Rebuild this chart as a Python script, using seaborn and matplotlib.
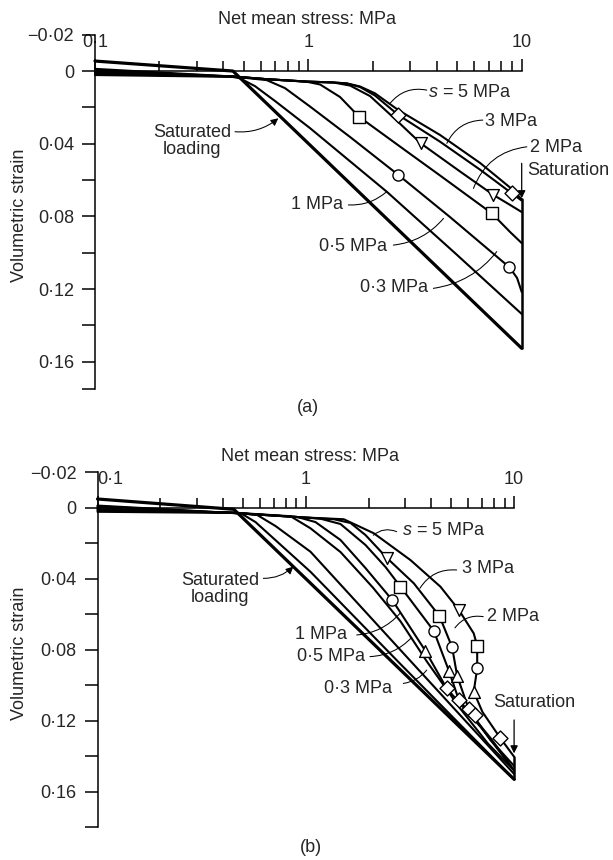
import matplotlib
matplotlib.use("Agg")
import matplotlib.pyplot as plt
from matplotlib.ticker import NullFormatter
import seaborn as sns

sns.set_style("white")
plt.rcParams["font.family"] = ["Liberation Sans", "DejaVu Sans"]
plt.rcParams["mathtext.fontset"] = "custom"
plt.rcParams["mathtext.rm"] = "Liberation Sans"
plt.rcParams["mathtext.it"] = "Liberation Sans:italic"

FS = 13

# ---------------- axis ticks ----------------
x_major = [0.1, 1, 10]
x_major_labels = ["0\u00b71", "1", "10"]
x_minor = [0.2, 0.3, 0.4, 0.5, 0.6, 0.7, 0.8, 0.9, 2, 3, 4, 5, 6, 7, 8, 9]
y_major = [-0.02, 0.0, 0.04, 0.08, 0.12, 0.16]
y_major_labels = ["\u22120\u00b702", "0", "0\u00b704", "0\u00b708", "0\u00b712", "0\u00b716"]
a_y_minor = [0.02, 0.06, 0.10, 0.14, 0.175]
b_y_minor = [0.02, 0.06, 0.10, 0.14, 0.18]

# ---------------- panel (a) ----------------
a_sat_x = [0.1, 0.443, 10]
a_sat_y = [-0.0055, 0.0, 0.1526]

a_l1_x = [0.1, 0.44, 0.478, 0.562, 0.698, 1.02, 2.33, 4.87, 10]
a_l1_y = [0.0022, 0.0032, 0.004, 0.0083, 0.0165, 0.0315, 0.0664, 0.1002, 0.1337]
a_l2_x = [0.1, 0.44, 0.638, 0.777, 1.02, 1.569, 2.642, 4.617, 8.757, 9.515, 10]
a_l2_y = [0.0016, 0.003, 0.005, 0.0094, 0.0196, 0.0363, 0.0572, 0.0804, 0.108, 0.1139, 0.1216]
a_l3_x = [0.1, 0.44, 0.64, 0.983, 1.135, 1.408, 1.73, 2.692, 4.144, 7.24, 8.823, 10]
a_l3_y = [0.001, 0.003, 0.0045, 0.0059, 0.0074, 0.0143, 0.0252, 0.0416, 0.0575, 0.0783, 0.0886, 0.0947]
a_l4_x = [0.1, 0.44, 0.64, 0.983, 1.31, 1.569, 1.947, 2.55, 3.365, 5.143, 7.368, 8.823, 10]
a_l4_y = [0.0004, 0.003, 0.0045, 0.0058, 0.0063, 0.008, 0.0138, 0.0264, 0.0398, 0.0553, 0.0682, 0.0737, 0.0776]
a_l5_x = [0.1, 0.44, 0.64, 0.983, 1.31, 1.514, 1.747, 2.054, 2.642, 4.144, 6.383, 8.987, 10]
a_l5_y = [-0.0004, 0.003, 0.0045, 0.0058, 0.0063, 0.0068, 0.0088, 0.0135, 0.0242, 0.0389, 0.0543, 0.0673, 0.0713]
a_l6_x = [0.1, 0.44, 0.64, 0.983, 1.31, 1.514, 1.747, 2.054, 2.642, 4.144, 6.383, 8.987, 10]
a_l6_y = [-0.0012, 0.003, 0.0045, 0.0058, 0.0063, 0.0068, 0.0085, 0.0123, 0.0215, 0.0352, 0.0506, 0.0649, 0.0706]
a_wet_x = [10, 10]
a_wet_y = [0.0706, 0.1526]

a_dia_x, a_dia_y = [2.642, 8.987], [0.0242, 0.0673]
a_tdn_x, a_tdn_y = [3.365, 7.368], [0.0398, 0.0682]
a_sq_x, a_sq_y = [1.73, 7.24], [0.0252, 0.0783]
a_ci_x, a_ci_y = [2.642, 8.757], [0.0572, 0.108]

# ---------------- panel (b) ----------------
b_sat_x = [0.1, 0.451, 10]
b_sat_y = [-0.0049, 0.0009, 0.153]

b_l1_x = [0.1, 0.486, 0.5735, 1.053, 2.848, 10]
b_l1_y = [0.0023, 0.003, 0.0081, 0.0361, 0.0881, 0.153]
b_l2_x = [0.1, 0.45, 0.5843, 0.715, 1.053, 2.848, 10]
b_l2_y = [0.0016, 0.0027, 0.0041, 0.0103, 0.0248, 0.0802, 0.150]
b_l3_x = [0.1, 0.45, 0.8445, 1.053, 1.468, 2.1, 2.848, 3.83, 5.5, 7.5, 10]
b_l3_y = [0.0010, 0.0028, 0.0048, 0.0116, 0.025, 0.045, 0.064, 0.087, 0.113, 0.133, 0.148]
b_l4_x = [0.1, 0.45, 0.909, 1.113, 1.468, 1.934, 2.60, 3.75, 4.74, 6.9, 10]
b_l4_y = [0.0004, 0.0029, 0.0052, 0.0081, 0.0182, 0.034, 0.052, 0.0806, 0.1017, 0.1235, 0.148]
b_l5_x = [0.1, 0.45, 0.98, 1.177, 1.468, 1.934, 2.413, 2.848, 4.12, 4.86, 5.43, 7.7, 10]
b_l5_y = [-0.0002, 0.003, 0.0055, 0.0062, 0.0092, 0.021, 0.0334, 0.0445, 0.0695, 0.0918, 0.1083, 0.1297, 0.148]
b_l6_x = [0.1, 0.45, 0.98, 1.362, 1.639, 1.934, 2.46, 3.30, 4.38, 5.04, 5.33, 6.06, 7.7, 10]
b_l6_y = [-0.0008, 0.003, 0.0055, 0.0065, 0.0086, 0.0154, 0.0285, 0.0426, 0.061, 0.0786, 0.0948, 0.1136, 0.1308, 0.1455]
b_l7_x = [0.1, 0.45, 0.98, 1.522, 2.12, 3.18, 4.43, 5.43, 6.40, 6.65, 6.65, 6.40, 7.05, 8.6, 10]
b_l7_y = [-0.0012, 0.003, 0.0055, 0.0065, 0.0144, 0.0295, 0.0445, 0.0576, 0.0708, 0.0779, 0.0905, 0.1037, 0.1151, 0.1299, 0.1403]
b_wet_x = [10, 10]
b_wet_y = [0.1403, 0.153]

b_tdn_x, b_tdn_y = [2.46, 5.43], [0.0285, 0.0576]
b_sq_x, b_sq_y = [2.848, 4.38, 6.65], [0.0445, 0.061, 0.0779]
b_ci_x, b_ci_y = [2.60, 4.12, 5.04, 6.65], [0.052, 0.0695, 0.0786, 0.0905]
b_tup_x, b_tup_y = [3.75, 4.86, 5.33, 6.40], [0.0806, 0.0918, 0.0948, 0.1037]
b_dia_x, b_dia_y = [4.74, 5.43, 6.06, 6.46, 8.6], [0.1017, 0.1083, 0.1136, 0.1168, 0.1299]


def style_axes(ax, y_bottom, y_minor, centre_first_label):
    ax.set_xscale("log")
    ax.set_xlim(0.1, 10)
    ax.set_ylim(y_bottom, -0.02)
    for side in ("right", "bottom"):
        ax.spines[side].set_visible(False)
    ax.spines["top"].set_position(("data", 0))
    ax.spines["top"].set_bounds(0.1, 10)
    for side in ("top", "left"):
        ax.spines[side].set_linewidth(1.1)
        ax.spines[side].set_color("black")
    ax.xaxis.set_ticks_position("top")
    ax.set_xticks(x_major)
    ax.set_xticklabels(x_major_labels)
    ax.set_xticks(x_minor, minor=True)
    ax.xaxis.set_minor_formatter(NullFormatter())
    ax.set_yticks(y_major)
    ax.set_yticklabels(y_major_labels)
    ax.set_yticks(y_minor, minor=True)
    ax.yaxis.set_minor_formatter(NullFormatter())
    ax.tick_params(axis="x", which="major", direction="out", length=9, width=1.1,
                   pad=5.5, labelsize=FS, top=True, bottom=False, color="black")
    ax.tick_params(axis="x", which="minor", direction="out", length=7, width=1.1,
                   top=True, bottom=False, color="black")
    ax.tick_params(axis="y", which="both", direction="out", length=9.4, width=1.1,
                   pad=5.8, labelsize=FS, left=True, right=False, color="black")
    if not centre_first_label:
        ax.get_xticklabels()[0].set_horizontalalignment("left")
    ax.set_xlabel("")
    ax.set_ylabel("")
    ax.grid(False)


def curve(ax, xs, ys, lw=1.5):
    sns.lineplot(x=xs, y=ys, ax=ax, sort=False, estimator=None, color="black",
                 lw=lw, clip_on=False, zorder=3)


def symbols(ax, xs, ys, marker, size):
    sns.scatterplot(x=xs, y=ys, ax=ax, marker=marker, s=size, color="white",
                    edgecolor="black", linewidth=1.0, zorder=6, clip_on=False)


def leader(ax, start, end, rad, arrow=False):
    ax.annotate("", xy=end, xytext=start, annotation_clip=False,
                arrowprops=dict(arrowstyle="-|>" if arrow else "-",
                                connectionstyle=f"arc3,rad={rad}",
                                lw=0.75, color="black", shrinkA=0, shrinkB=0,
                                mutation_scale=11))


def down_arrow(ax, x, y0, y1):
    ax.annotate("", xy=(x, y1), xytext=(x, y0), annotation_clip=False,
                arrowprops=dict(arrowstyle="-|>", lw=0.9, color="black",
                                shrinkA=0, shrinkB=0, mutation_scale=11))


fig = plt.figure(figsize=(6.13, 8.6), dpi=100)
ax_a = fig.add_axes([95 / 613, 1 - 389 / 860, 426.7 / 613, 354.3 / 860])
ax_b = fig.add_axes([97.5 / 613, 1 - 827.2 / 860, 416.6 / 613, 355 / 860])

# ---- panel (a) ----
style_axes(ax_a, 0.175, a_y_minor, True)
for xs, ys in [(a_l1_x, a_l1_y), (a_l2_x, a_l2_y), (a_l3_x, a_l3_y),
               (a_l4_x, a_l4_y), (a_l5_x, a_l5_y), (a_l6_x, a_l6_y)]:
    curve(ax_a, xs, ys)
curve(ax_a, a_sat_x, a_sat_y, lw=2.3)
curve(ax_a, a_wet_x, a_wet_y, lw=1.8)
symbols(ax_a, a_dia_x, a_dia_y, "D", 58)
symbols(ax_a, a_tdn_x, a_tdn_y, "v", 72)
symbols(ax_a, a_sq_x, a_sq_y, "s", 64)
symbols(ax_a, a_ci_x, a_ci_y, "o", 64)

ax_a.text(3.64, 0.0118, r"$s$ = 5 MPa", fontsize=FS, ha="left", va="center")
leader(ax_a, (3.59, 0.0105), (2.415, 0.0178), 0.3)
ax_a.text(6.74, 0.0275, "3 MPa", fontsize=FS, ha="left", va="center")
leader(ax_a, (6.57, 0.027), (4.456, 0.0398), 0.3)
ax_a.text(10.95, 0.0421, "2 MPa", fontsize=FS, ha="left", va="center")
leader(ax_a, (10.57, 0.0417), (5.94, 0.0646), 0.3)
ax_a.text(10.6, 0.0548, "Saturation", fontsize=FS, ha="left", va="center")
down_arrow(ax_a, 10, 0.0508, 0.0700)
ax_a.text(0.285, 0.0385, "Saturated\nloading", fontsize=FS, ha="center", va="center",
          linespacing=1.05)
leader(ax_a, (0.453, 0.0334), (0.723, 0.026), 0.2, arrow=True)
ax_a.text(1.459, 0.0737, "1 MPa", fontsize=FS, ha="right", va="center")
leader(ax_a, (1.54, 0.0737), (2.33, 0.0664), 0.2)
ax_a.text(2.339, 0.0967, "0\u00b75 MPa", fontsize=FS, ha="right", va="center")
leader(ax_a, (2.503, 0.0958), (4.30, 0.0811), 0.2)
ax_a.text(3.652, 0.1194, "0\u00b73 MPa", fontsize=FS, ha="right", va="center")
leader(ax_a, (3.855, 0.1196), (7.64, 0.0994), 0.2)

# ---- panel (b) ----
style_axes(ax_b, 0.18, b_y_minor, False)
for xs, ys in [(b_l1_x, b_l1_y), (b_l2_x, b_l2_y), (b_l3_x, b_l3_y),
               (b_l4_x, b_l4_y), (b_l5_x, b_l5_y), (b_l6_x, b_l6_y),
               (b_l7_x, b_l7_y)]:
    curve(ax_b, xs, ys)
curve(ax_b, b_sat_x, b_sat_y, lw=2.3)
curve(ax_b, b_wet_x, b_wet_y, lw=1.8)
symbols(ax_b, b_tdn_x, b_tdn_y, "v", 72)
symbols(ax_b, b_sq_x, b_sq_y, "s", 64)
symbols(ax_b, b_ci_x, b_ci_y, "o", 64)
symbols(ax_b, b_tup_x, b_tup_y, "^", 72)
symbols(ax_b, b_dia_x, b_dia_y, "D", 58)

ax_b.text(2.886, 0.0131, r"$s$ = 5 MPa", fontsize=FS, ha="left", va="center")
leader(ax_b, (2.73, 0.0135), (2.11, 0.0155), 0.3)
ax_b.text(5.60, 0.0345, "3 MPa", fontsize=FS, ha="left", va="center")
leader(ax_b, (5.30, 0.0351), (3.53, 0.0454), 0.3)
ax_b.text(7.39, 0.0614, "2 MPa", fontsize=FS, ha="left", va="center")
leader(ax_b, (7.11, 0.0614), (5.20, 0.0677), 0.3)
ax_b.text(0.3874, 0.0458, "Saturated\nloading", fontsize=FS, ha="center", va="center",
          linespacing=1.05)
leader(ax_b, (0.625, 0.0398), (0.871, 0.0332), 0.2, arrow=True)
ax_b.text(1.571, 0.0712, "1 MPa", fontsize=FS, ha="right", va="center")
leader(ax_b, (1.756, 0.0717), (2.833, 0.0595), 0.2)
ax_b.text(1.924, 0.0841, "0\u00b75 MPa", fontsize=FS, ha="right", va="center")
leader(ax_b, (2.033, 0.0839), (3.224, 0.0731), 0.2)
ax_b.text(2.585, 0.1016, "0\u00b73 MPa", fontsize=FS, ha="right", va="center")
leader(ax_b, (2.938, 0.099), (3.805, 0.0915), 0.2)
ax_b.text(7.94, 0.1097, "Saturation", fontsize=FS, ha="left", va="center")
down_arrow(ax_b, 10, 0.1196, 0.1384)

# ---- figure-level titles and captions ----
fig.text(306.5 / 613, 1 - 19 / 860, "Net mean stress: MPa", fontsize=FS, ha="center", va="center")
fig.text(310 / 613, 1 - 456.7 / 860, "Net mean stress: MPa", fontsize=FS, ha="center", va="center")
fig.text(20 / 613, 1 - 215 / 860, "Volumetric strain", fontsize=FS, rotation=90,
         ha="center", va="center")
fig.text(20 / 613, 1 - 653 / 860, "Volumetric strain", fontsize=FS, rotation=90,
         ha="center", va="center")
fig.text(308 / 613, 1 - 407 / 860, "(a)", fontsize=FS, ha="center", va="center")
fig.text(311 / 613, 1 - 847 / 860, "(b)", fontsize=FS, ha="center", va="center")

fig.savefig("out.png", dpi=100, facecolor="white")
